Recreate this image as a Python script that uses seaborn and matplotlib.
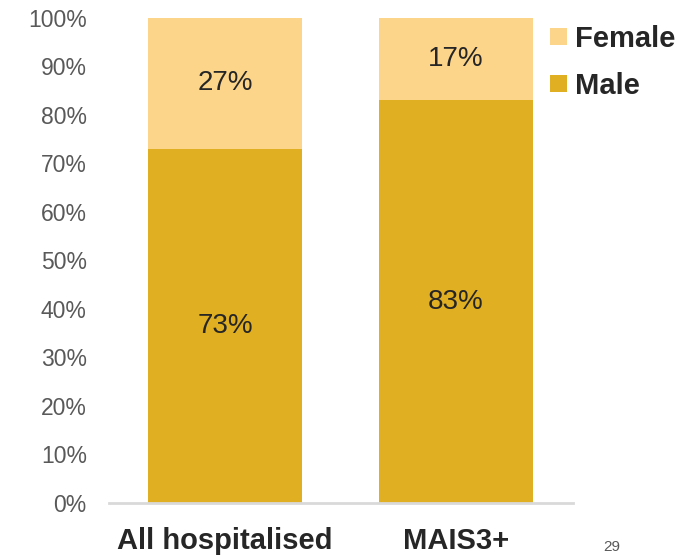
import pandas as pd
import matplotlib.pyplot as plt
import seaborn as sns

categories = ["All hospitalised", "MAIS3+"]
male = [73, 83]
female = [27, 17]

MALE_COLOR = "#E1AF22"
FEMALE_COLOR = "#FDD58A"

sns.set_style("white")
plt.rcParams['font.family'] = ['Liberation Sans', 'DejaVu Sans']

df = pd.DataFrame({"category": categories, "male": male,
                   "total": [m + f for m, f in zip(male, female)]})

fig = plt.figure(figsize=(6.97, 5.55), dpi=100)
ax = fig.add_axes([0.1564, 0.0937, 0.822 - 0.1564, 0.9676 - 0.0937])

# total bar first (female on top), then male over it
sns.barplot(data=df, x="category", y="total", color=FEMALE_COLOR, width=0.667,
            saturation=1, ax=ax, label="Female", linewidth=0)
sns.barplot(data=df, x="category", y="male", color=MALE_COLOR, width=0.667,
            saturation=1, ax=ax, label="Male", linewidth=0)

for i, (m, f) in enumerate(zip(male, female)):
    ax.text(i, m / 2, f"{m}%", ha="center", va="center", fontsize=20, color="#262626")
    ax.text(i, m + f / 2, f"{f}%", ha="center", va="center", fontsize=20, color="#262626")

ax.set_xlim(-0.502, 1.506)
ax.set_ylim(0, 100)
ax.set_yticks(range(0, 101, 10))
ax.set_yticklabels([f"{v}%" for v in range(0, 101, 10)], fontsize=16.5, color="#595959")
ax.set_xticklabels(categories, fontsize=21, fontweight="bold", color="#262626")
ax.tick_params(axis="both", length=0)
ax.tick_params(axis="x", pad=17)
ax.tick_params(axis="y", pad=16)
ax.set_xlabel("")
ax.set_ylabel("")
for s in ["top", "right", "left"]:
    ax.spines[s].set_visible(False)
ax.spines["bottom"].set_color("#D9D9D9")
ax.spines["bottom"].set_linewidth(2)

leg = ax.legend(loc="upper left", bbox_to_anchor=(0.895, 1.04), frameon=False,
                handlelength=0.55, handleheight=0.55, handletextpad=0.3,
                labelspacing=0.65, prop={"size": 21, "weight": "bold"})
for t in leg.get_texts():
    t.set_color("#262626")

fig.text(0.878, 0.015, "29", fontsize=11, color="#595959", ha="center", va="center")

fig.savefig("out.png", dpi=100)
